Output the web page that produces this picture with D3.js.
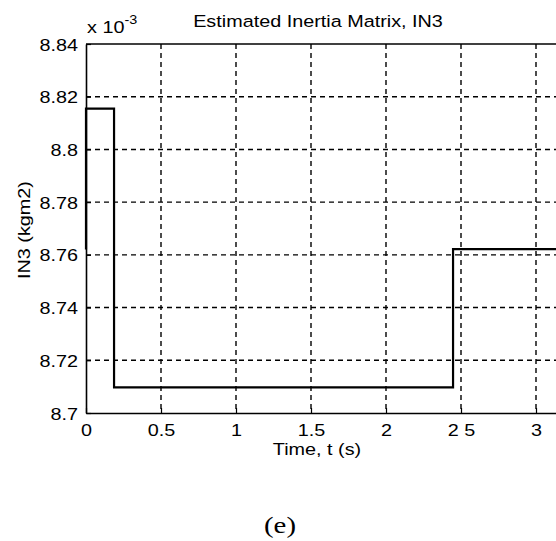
<!DOCTYPE html>
<html>
<head>
<meta charset="utf-8">
<script src="https://cdn.jsdelivr.net/npm/d3@7"></script>
<style>
  body { margin: 0; background: #fff; }
  svg { display: block; }
  .tick-label, .graph-title, .graph-label { font-family: "Liberation Sans", Arial, sans-serif; font-size: 16.5px; fill: #000; }
  .grid line { stroke: #000; stroke-width: 1.4; stroke-dasharray: 5,4; }
  .graph-line { fill: none; stroke: #000; stroke-width: 2.2; }
  .caption { font-family: "Liberation Serif", "Times New Roman", serif; font-size: 24px; font-weight: normal; fill: #000; }
</style>
</head>
<body>
<svg></svg>
<script>
// step data (values in units of 1e-3 kg m2)
var time = [0, 0, 0.187, 2.447, 3.5];
var in3 = [8.762, 8.8155, 8.7097, 8.7622, 8.7622];

var xTicks = [0, 0.5, 1, 1.5, 2, 2.5, 3];
var xTickLabels = ["0", "0.5", "1", "1.5", "2", "2 5", "3"];
var yTicks = [8.7, 8.72, 8.74, 8.76, 8.78, 8.8, 8.82, 8.84];
var yTickLabels = ["8.7", "8.72", "8.74", "8.76", "8.78", "8.8", "8.82", "8.84"];

var stretch = 1.2; // the scanned text is wider than plain Arial

document.addEventListener("DOMContentLoaded", function() {
  drawChart();
});

function drawChart() {
  var svgWidth = 556, svgHeight = 541;
  var margin = { top: 44, left: 86 };
  var width = 525, height = 369;

  var svg = d3.select('svg')
    .attr("width", svgWidth)
    .attr("height", svgHeight);

  var chart = svg.append("g")
    .attr("transform", `translate(${margin.left}, ${margin.top})`);

  var x = d3.scaleLinear().domain([0, 3.5]).range([0, width]);
  var y = d3.scaleLinear().domain([8.7, 8.84]).range([height, 0]);

  // grid lines
  chart.append("g").attr("class", "grid")
    .selectAll("line")
    .data(xTicks.slice(1))
    .enter().append("line")
    .attr("x1", d => x(d)).attr("x2", d => x(d))
    .attr("y1", 0).attr("y2", height);

  chart.append("g").attr("class", "grid")
    .selectAll("line")
    .data(yTicks.slice(1, -1))
    .enter().append("line")
    .attr("x1", 0).attr("x2", width)
    .attr("y1", d => y(d)).attr("y2", d => y(d));

  // axes, ticks inward like matlab
  var xAxis = chart.append("g")
    .attr("transform", "translate(0," + height + ")")
    .call(d3.axisBottom(x).tickValues(xTicks).tickSizeInner(-5).tickSizeOuter(0)
      .tickFormat((d, i) => xTickLabels[i]));
  var yAxis = chart.append("g")
    .call(d3.axisLeft(y).tickValues(yTicks).tickSizeInner(-5).tickSizeOuter(0)
      .tickFormat((d, i) => yTickLabels[i]));

  [xAxis, yAxis].forEach(function(a) {
    a.select(".domain").attr("stroke", "#000").attr("stroke-width", 1.6);
    a.selectAll(".tick line").attr("stroke", "#000").attr("stroke-width", 1.2);
    a.selectAll("text").attr("class", "tick-label").attr("font-size", null).attr("font-family", null);
  });
  xAxis.selectAll("text")
    .attr("y", 0).attr("dy", null)
    .attr("transform", `translate(0,23) scale(${stretch},1)`);
  yAxis.selectAll("text")
    .attr("x", 0).attr("dy", null)
    .attr("transform", `translate(-8,6) scale(${stretch},1)`);

  // top border
  chart.append("line")
    .attr("x1", 0).attr("x2", width).attr("y1", 0).attr("y2", 0)
    .attr("stroke", "#000").attr("stroke-width", 1.6);

  // data
  var line = d3.line()
    .x((d, i) => x(time[i]))
    .y(d => y(d))
    .curve(d3.curveStepAfter);

  chart.append("path")
    .attr("class", "graph-line")
    .datum(in3)
    .attr("d", line);

  // labels
  svg.append("text")
    .attr("class", "graph-title")
    .attr("transform", `translate(318,27) scale(${stretch},1)`)
    .attr("text-anchor", "middle")
    .text("Estimated Inertia Matrix, IN3");

  var expo = svg.append("text")
    .attr("class", "graph-label")
    .attr("transform", `translate(87,33) scale(${stretch},1)`);
  expo.append("tspan").text("x 10");
  expo.append("tspan").attr("dy", -9).attr("font-size", 12).text("-3");

  svg.append("text")
    .attr("class", "graph-label")
    .attr("transform", `translate(317,455) scale(${stretch},1)`)
    .attr("text-anchor", "middle")
    .text("Time, t (s)");

  svg.append("text")
    .attr("class", "graph-label")
    .attr("transform", `translate(30,230) rotate(-90) scale(${stretch},1)`)
    .attr("text-anchor", "middle")
    .text("IN3 (kgm2)");

  svg.append("text")
    .attr("class", "caption")
    .attr("transform", "translate(280,533) scale(1.2,1)")
    .attr("text-anchor", "middle")
    .text("(e)");
}
</script>
</body>
</html>
